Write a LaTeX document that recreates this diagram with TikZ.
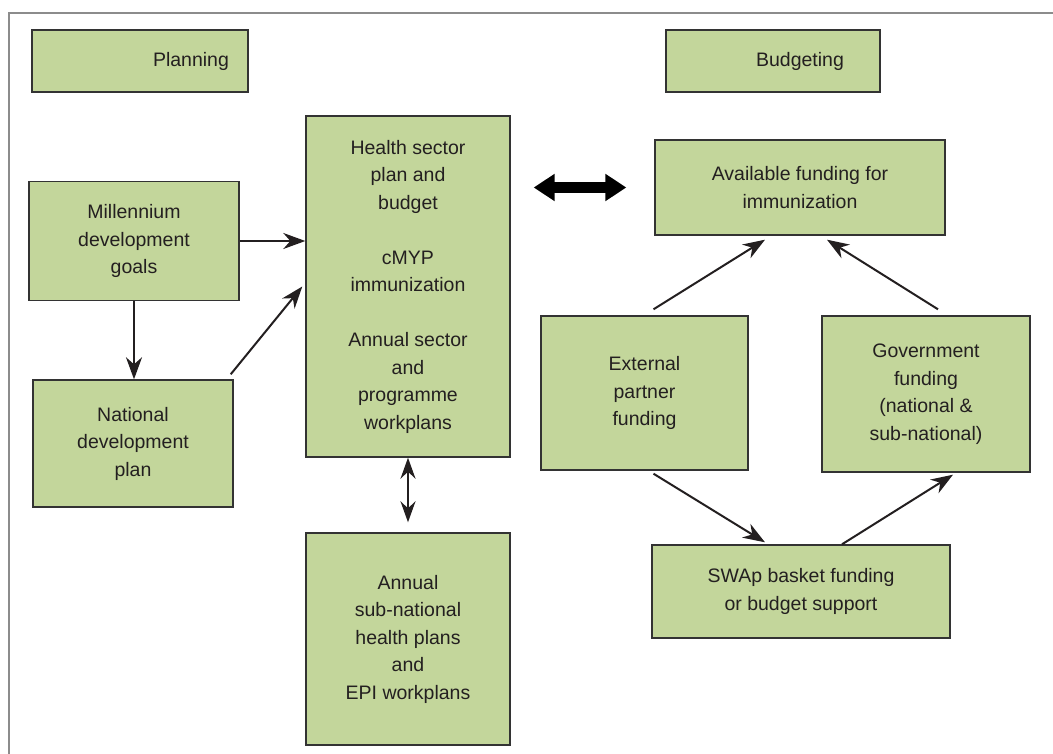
\documentclass[tikz,border=0pt]{standalone}
\usepackage{fontspec}
\setmainfont{Liberation Sans}
\usetikzlibrary{arrows.meta,calc}
\definecolor{boxfill}{HTML}{C3D69B}
\definecolor{boxline}{HTML}{333333}
\definecolor{ink}{HTML}{231F20}
\definecolor{framegray}{HTML}{8C8C8C}
\begin{document}
\begin{tikzpicture}[x=1pt,y=-1pt,
  box/.style={draw=boxline,fill=boxfill,line width=1.4pt,inner sep=0pt,
    text=ink,align=center,font={\fontsize{19.5}{27.5}\selectfont}},
  lbl/.style={text=ink,inner sep=0pt,font={\fontsize{19.5}{27.5}\selectfont}},
  tip/.style={Stealth[length=22pt,width=16pt,inset=7pt]},
  flow/.style={draw=ink,line width=2pt,-{Stealth[length=22pt,width=16pt,inset=7pt]}},
  both/.style={draw=ink,line width=2pt,{Stealth[length=21pt,width=15pt,inset=7pt]}-{Stealth[length=21pt,width=15pt,inset=7pt]}},
  big/.style={draw=black,line width=11pt,{Triangle[length=21pt,width=26pt]}-{Triangle[length=21pt,width=26pt]}}]
\useasboundingbox (0,0) rectangle (1053,754);
% open frame
\draw[framegray,line width=2.5pt] (1053,13) -- (9,13) -- (9,754);

% headings
\node[box,minimum width=216pt,minimum height=62pt] (plan) at (140,61) {};
\node[lbl] (plantxt) at (191,61) {Planning};
\node[box,minimum width=214pt,minimum height=62pt] (budg) at (773,61) {};
\node[lbl] (budgtxt) at (800,61) {Budgeting};

% planning side
\node[box,minimum width=210pt,minimum height=119pt] (mdg) at (134,241)
  {Millennium\\development\\goals};
\node[box,minimum width=200pt,minimum height=127pt] (nat) at (133,443.5)
  {National\\development\\plan};
\node[box,minimum width=204pt,minimum height=341pt] (health) at (408,286.5)
  {Health sector\\plan and\\budget\\[27.5pt]cMYP\\immunization\\[27.5pt]Annual sector\\and\\programme\\workplans};
\node[box,minimum width=204pt,minimum height=212pt] (annual) at (408,639)
  {Annual\\sub-national\\health plans\\and\\EPI workplans};

% budgeting side
\node[box,minimum width=290pt,minimum height=95pt] (avail) at (800,187.5)
  {Available funding for\\immunization};
\node[box,minimum width=207pt,minimum height=154pt] (ext) at (644.5,393)
  {External\\partner\\funding};
\node[box,minimum width=208pt,minimum height=156pt] (gov) at (926,394)
  {Government\\funding\\(national \&\\sub-national)};
\node[box,minimum width=298pt,minimum height=93pt] (swap) at (801,591.5)
  {SWAp basket funding\\or budget support};

% connectors
\draw[flow] (mdg.east) -- (mdg.east -| health.west);
\draw[flow] (mdg.south) -- (mdg.south |- nat.north);
\draw[flow] ($(nat.north east)+(-3,-5)$) -- ($(health.west)+(-3,0)$);
\draw[both] (health.south) -- ($(annual.north)+(0,-10)$);
\draw[big] ($(health.east |- avail.west)+(23,0)$) -- ($(avail.west)+(-28,0)$);
\draw[flow] ($(ext.north)+(9,-6)$) -- ($(avail.south)+(-35,4)$);
\draw[flow] ($(gov.north)+(12,-6)$) -- ($(avail.south)+(27,4)$);
\draw[flow] ($(ext.south)+(9,3)$) -- ($(swap.north)+(-36,-2)$);
\draw[flow] ($(swap.north)+(41,0)$) -- ($(gov.south)+(27,2)$);
\end{tikzpicture}
\end{document}
